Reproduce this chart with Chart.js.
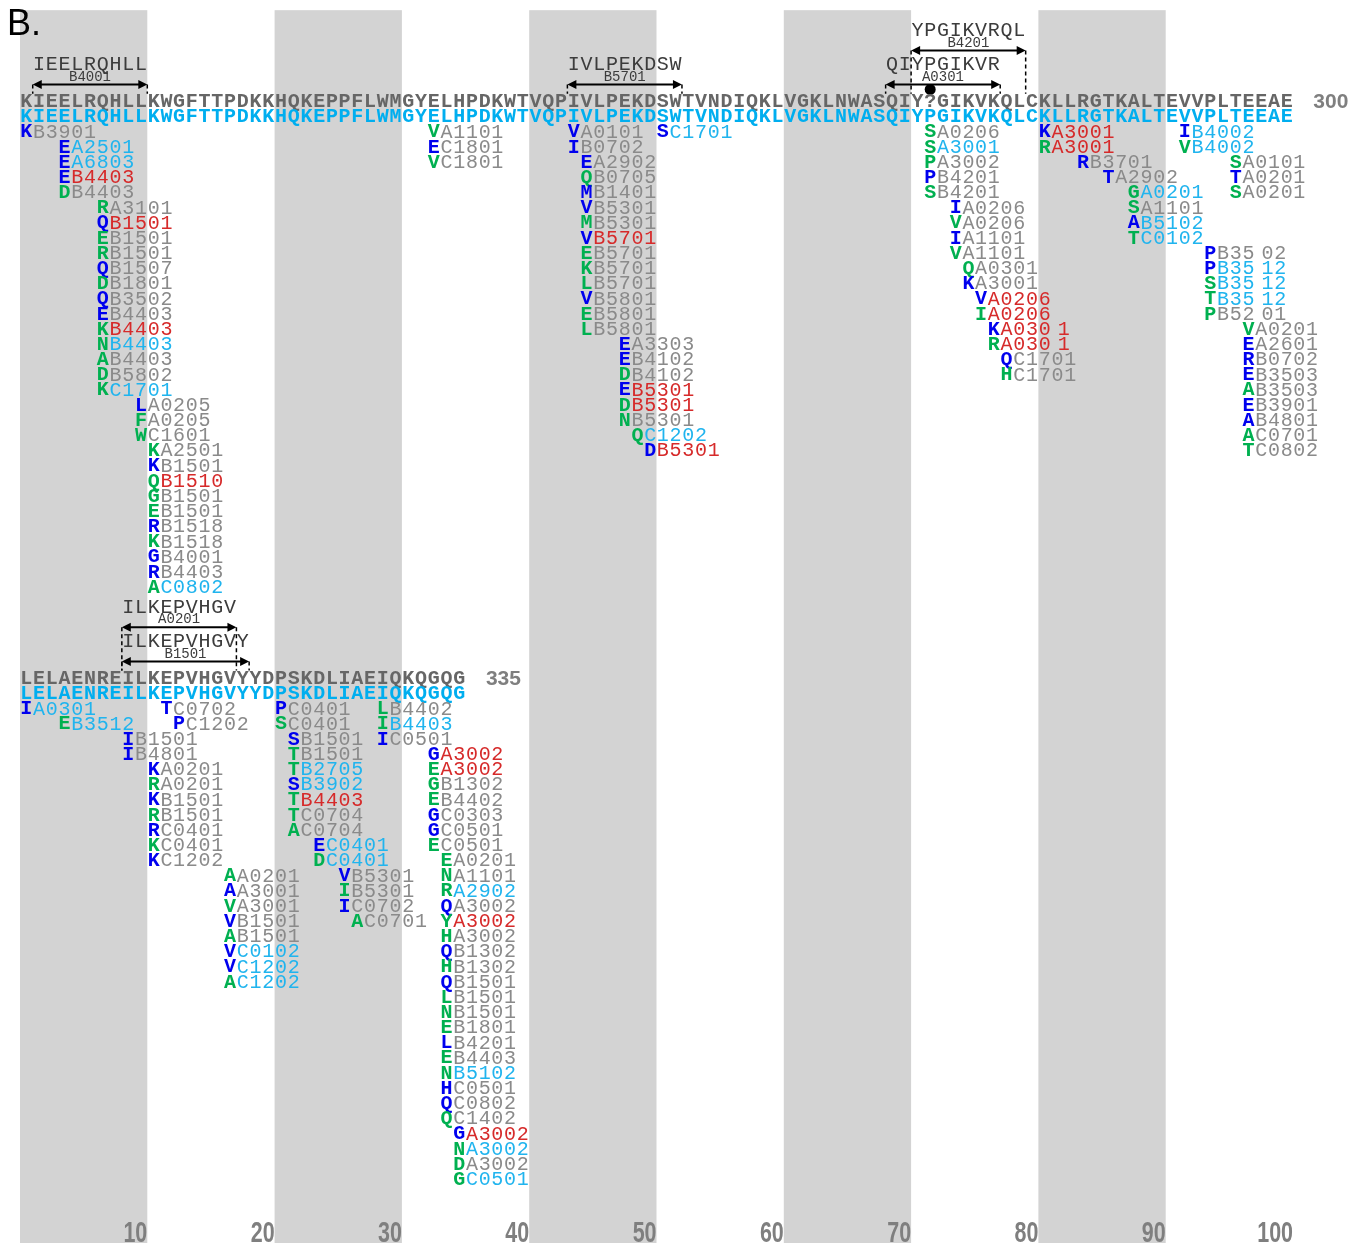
<!DOCTYPE html>
<html>
<head>
<meta charset="utf-8">
<script src="https://cdn.jsdelivr.net/npm/chart.js@4.4.1/dist/chart.umd.min.js"></script>
<style>
  html, body { margin: 0; padding: 0; background: #fff; }
</style>
</head>
<body>
<canvas id="chart" width="1351" height="1243"></canvas>
<script>
// Alignment blocks: reference row (grey) and consensus row (cyan)
const block1Ref  = 'KIEELRQHLLKWGFTTPDKKHQKEPPFLWMGYELHPDKWTVQPIVLPEKDSWTVNDIQKLVGKLNWASQIY?GIKVKQLCKLLRGTKALTEVVPLTEEAE';
const block1Cons = 'KIEELRQHLLKWGFTTPDKKHQKEPPFLWMGYELHPDKWTVQPIVLPEKDSWTVNDIQKLVGKLNWASQIYPGIKVKQLCKLLRGTKALTEVVPLTEEAE';
const block2Ref  = 'LELAENREILKEPVHGVYYDPSKDLIAEIQKQGQG';
const block2Cons = 'LELAENREILKEPVHGVYYDPSKDLIAEIQKQGQG';
const blockEndLabels = ['300', '335'];
const blockFirstRow = [0, 38];

// column numbering along the bottom
const tickValues = [10, 20, 30, 40, 50, 60, 70, 80, 90, 100];
const shadedStart = [1, 21, 41, 61, 81];
const shadedWidth = 10;

// known epitopes (block, first residue, last residue, peptide, restricting allele, bracket level)
const epiBlock   = [0, 0, 0, 0, 1, 1];
const epiStart   = [2, 44, 71, 69, 9, 9];
const epiEnd     = [10, 52, 79, 77, 17, 18];
const epiPeptide = ['IEELRQHLL', 'IVLPEKDSW', 'YPGIKVRQL', 'QIYPGIKVR', 'ILKEPVHGV', 'ILKEPVHGVY'];
const epiAllele  = ['B4001', 'B5701', 'B4201', 'A0301', 'A0201', 'B1501'];
const epiLevel   = [1, 1, 2, 1, 2, 1];
// residue flagged with a dot under the A0301 bracket
const dotEpitope = [3];
const dotResidue = [72];

// variants: [position, stack row, residue, residue class, allele, allele class]
// residue class: b / g ; allele class: n (plain), r, c
const variants1 = [
  [1, 0, 'K', 'b', 'B3901', 'n'],
  [4, 1, 'E', 'b', 'A2501', 'c'],
  [4, 2, 'E', 'b', 'A6803', 'c'],
  [4, 3, 'E', 'b', 'B4403', 'r'],
  [4, 4, 'D', 'g', 'B4403', 'n'],
  [7, 5, 'R', 'g', 'A3101', 'n'],
  [7, 6, 'Q', 'b', 'B1501', 'r'],
  [7, 7, 'E', 'g', 'B1501', 'n'],
  [7, 8, 'R', 'g', 'B1501', 'n'],
  [7, 9, 'Q', 'b', 'B1507', 'n'],
  [7, 10, 'D', 'g', 'B1801', 'n'],
  [7, 11, 'Q', 'b', 'B3502', 'n'],
  [7, 12, 'E', 'b', 'B4403', 'n'],
  [7, 13, 'K', 'g', 'B4403', 'r'],
  [7, 14, 'N', 'g', 'B4403', 'c'],
  [7, 15, 'A', 'g', 'B4403', 'n'],
  [7, 16, 'D', 'g', 'B5802', 'n'],
  [7, 17, 'K', 'g', 'C1701', 'c'],
  [10, 18, 'L', 'b', 'A0205', 'n'],
  [10, 19, 'F', 'g', 'A0205', 'n'],
  [10, 20, 'W', 'g', 'C1601', 'n'],
  [11, 21, 'K', 'g', 'A2501', 'n'],
  [11, 22, 'K', 'b', 'B1501', 'n'],
  [11, 23, 'Q', 'g', 'B1510', 'r'],
  [11, 24, 'G', 'g', 'B1501', 'n'],
  [11, 25, 'E', 'g', 'B1501', 'n'],
  [11, 26, 'R', 'b', 'B1518', 'n'],
  [11, 27, 'K', 'g', 'B1518', 'n'],
  [11, 28, 'G', 'b', 'B4001', 'n'],
  [11, 29, 'R', 'b', 'B4403', 'n'],
  [11, 30, 'A', 'g', 'C0802', 'c'],
  [33, 0, 'V', 'g', 'A1101', 'n'],
  [33, 1, 'E', 'b', 'C1801', 'n'],
  [33, 2, 'V', 'g', 'C1801', 'n'],
  [44, 0, 'V', 'b', 'A0101', 'n'],
  [44, 1, 'I', 'b', 'B0702', 'n'],
  [45, 2, 'E', 'b', 'A2902', 'n'],
  [45, 3, 'Q', 'g', 'B0705', 'n'],
  [45, 4, 'M', 'b', 'B1401', 'n'],
  [45, 5, 'V', 'b', 'B5301', 'n'],
  [45, 6, 'M', 'g', 'B5301', 'n'],
  [45, 7, 'V', 'b', 'B5701', 'r'],
  [45, 8, 'E', 'g', 'B5701', 'n'],
  [45, 9, 'K', 'g', 'B5701', 'n'],
  [45, 10, 'L', 'g', 'B5701', 'n'],
  [45, 11, 'V', 'b', 'B5801', 'n'],
  [45, 12, 'E', 'g', 'B5801', 'n'],
  [45, 13, 'L', 'g', 'B5801', 'n'],
  [48, 14, 'E', 'b', 'A3303', 'n'],
  [48, 15, 'E', 'b', 'B4102', 'n'],
  [48, 16, 'D', 'g', 'B4102', 'n'],
  [48, 17, 'E', 'b', 'B5301', 'r'],
  [48, 18, 'D', 'g', 'B5301', 'r'],
  [48, 19, 'N', 'g', 'B5301', 'n'],
  [49, 20, 'Q', 'g', 'C1202', 'c'],
  [50, 21, 'D', 'b', 'B5301', 'r'],
  [51, 0, 'S', 'b', 'C1701', 'c'],
  [72, 0, 'S', 'g', 'A0206', 'n'],
  [72, 1, 'S', 'g', 'A3001', 'c'],
  [72, 2, 'P', 'g', 'A3002', 'n'],
  [72, 3, 'P', 'b', 'B4201', 'n'],
  [72, 4, 'S', 'g', 'B4201', 'n'],
  [74, 5, 'I', 'b', 'A0206', 'n'],
  [74, 6, 'V', 'g', 'A0206', 'n'],
  [74, 7, 'I', 'b', 'A1101', 'n'],
  [74, 8, 'V', 'g', 'A1101', 'n'],
  [75, 9, 'Q', 'g', 'A0301', 'n'],
  [75, 10, 'K', 'b', 'A3001', 'n'],
  [76, 11, 'V', 'b', 'A0206', 'r'],
  [76, 12, 'I', 'g', 'A0206', 'r'],
  [77, 13, 'K', 'b', 'A030 1', 'r'],
  [77, 14, 'R', 'g', 'A030 1', 'r'],
  [78, 15, 'Q', 'b', 'C1701', 'n'],
  [78, 16, 'H', 'g', 'C1701', 'n'],
  [81, 0, 'K', 'b', 'A3001', 'r'],
  [81, 1, 'R', 'g', 'A3001', 'r'],
  [84, 2, 'R', 'b', 'B3701', 'n'],
  [86, 3, 'T', 'b', 'A2902', 'n'],
  [88, 4, 'G', 'g', 'A0201', 'c'],
  [88, 5, 'S', 'g', 'A1101', 'n'],
  [88, 6, 'A', 'b', 'B5102', 'c'],
  [88, 7, 'T', 'g', 'C0102', 'c'],
  [92, 0, 'I', 'b', 'B4002', 'c'],
  [92, 1, 'V', 'g', 'B4002', 'c'],
  [96, 2, 'S', 'g', 'A0101', 'n'],
  [96, 3, 'T', 'b', 'A0201', 'n'],
  [96, 4, 'S', 'g', 'A0201', 'n'],
  [94, 8, 'P', 'b', 'B35 02', 'n'],
  [94, 9, 'P', 'b', 'B35 12', 'c'],
  [94, 10, 'S', 'g', 'B35 12', 'c'],
  [94, 11, 'T', 'g', 'B35 12', 'c'],
  [94, 12, 'P', 'g', 'B52 01', 'n'],
  [97, 13, 'V', 'g', 'A0201', 'n'],
  [97, 14, 'E', 'b', 'A2601', 'n'],
  [97, 15, 'R', 'b', 'B0702', 'n'],
  [97, 16, 'E', 'b', 'B3503', 'n'],
  [97, 17, 'A', 'g', 'B3503', 'n'],
  [97, 18, 'E', 'b', 'B3901', 'n'],
  [97, 19, 'A', 'b', 'B4801', 'n'],
  [97, 20, 'A', 'g', 'C0701', 'n'],
  [97, 21, 'T', 'g', 'C0802', 'n']
];

const variants2 = [
  [1, 0, 'I', 'b', 'A0301', 'c'],
  [4, 1, 'E', 'g', 'B3512', 'c'],
  [9, 2, 'I', 'b', 'B1501', 'n'],
  [9, 3, 'I', 'b', 'B4801', 'n'],
  [11, 4, 'K', 'b', 'A0201', 'n'],
  [11, 5, 'R', 'g', 'A0201', 'n'],
  [11, 6, 'K', 'b', 'B1501', 'n'],
  [11, 7, 'R', 'g', 'B1501', 'n'],
  [11, 8, 'R', 'b', 'C0401', 'n'],
  [11, 9, 'K', 'g', 'C0401', 'n'],
  [11, 10, 'K', 'b', 'C1202', 'n'],
  [12, 0, 'T', 'b', 'C0702', 'n'],
  [13, 1, 'P', 'b', 'C1202', 'n'],
  [17, 11, 'A', 'g', 'A0201', 'n'],
  [17, 12, 'A', 'b', 'A3001', 'n'],
  [17, 13, 'V', 'g', 'A3001', 'n'],
  [17, 14, 'V', 'b', 'B1501', 'n'],
  [17, 15, 'A', 'g', 'B1501', 'n'],
  [17, 16, 'V', 'b', 'C0102', 'c'],
  [17, 17, 'V', 'b', 'C1202', 'c'],
  [17, 18, 'A', 'g', 'C1202', 'c'],
  [21, 0, 'P', 'b', 'C0401', 'n'],
  [21, 1, 'S', 'g', 'C0401', 'n'],
  [22, 2, 'S', 'b', 'B1501', 'n'],
  [22, 3, 'T', 'g', 'B1501', 'n'],
  [22, 4, 'T', 'g', 'B2705', 'c'],
  [22, 5, 'S', 'b', 'B3902', 'c'],
  [22, 6, 'T', 'g', 'B4403', 'r'],
  [22, 7, 'T', 'g', 'C0704', 'n'],
  [22, 8, 'A', 'g', 'C0704', 'n'],
  [24, 9, 'E', 'b', 'C0401', 'c'],
  [24, 10, 'D', 'g', 'C0401', 'c'],
  [26, 11, 'V', 'b', 'B5301', 'n'],
  [26, 12, 'I', 'g', 'B5301', 'n'],
  [26, 13, 'I', 'b', 'C0702', 'n'],
  [27, 14, 'A', 'g', 'C0701', 'n'],
  [29, 0, 'L', 'g', 'B4402', 'n'],
  [29, 1, 'I', 'g', 'B4403', 'c'],
  [29, 2, 'I', 'b', 'C0501', 'n'],
  [33, 3, 'G', 'b', 'A3002', 'r'],
  [33, 4, 'E', 'g', 'A3002', 'r'],
  [33, 5, 'G', 'g', 'B1302', 'n'],
  [33, 6, 'E', 'g', 'B4402', 'n'],
  [33, 7, 'G', 'b', 'C0303', 'n'],
  [33, 8, 'G', 'b', 'C0501', 'n'],
  [33, 9, 'E', 'g', 'C0501', 'n'],
  [34, 10, 'E', 'g', 'A0201', 'n'],
  [34, 11, 'N', 'g', 'A1101', 'n'],
  [34, 12, 'R', 'g', 'A2902', 'c'],
  [34, 13, 'Q', 'b', 'A3002', 'n'],
  [34, 14, 'Y', 'g', 'A3002', 'r'],
  [34, 15, 'H', 'g', 'A3002', 'n'],
  [34, 16, 'Q', 'b', 'B1302', 'n'],
  [34, 17, 'H', 'g', 'B1302', 'n'],
  [34, 18, 'Q', 'b', 'B1501', 'n'],
  [34, 19, 'L', 'g', 'B1501', 'n'],
  [34, 20, 'N', 'g', 'B1501', 'n'],
  [34, 21, 'E', 'g', 'B1801', 'n'],
  [34, 22, 'L', 'b', 'B4201', 'n'],
  [34, 23, 'E', 'g', 'B4403', 'n'],
  [34, 24, 'N', 'g', 'B5102', 'c'],
  [34, 25, 'H', 'b', 'C0501', 'n'],
  [34, 26, 'Q', 'b', 'C0802', 'n'],
  [34, 27, 'Q', 'g', 'C1402', 'n'],
  [35, 28, 'G', 'b', 'A3002', 'r'],
  [35, 29, 'N', 'g', 'A3002', 'c'],
  [35, 30, 'D', 'g', 'A3002', 'n'],
  [35, 31, 'G', 'g', 'C0501', 'c']
];

// ---- styling ----
const MONO = '"Liberation Mono", "Courier New", monospace';
const residueColors = { b: '#0000EE', g: '#00B050' };
const alleleColors = { n: '#8A8A8A', r: '#D62A2A', c: '#20B4EE' };
const refColor = '#666666';
const consColor = '#00AEEF';
const labelColor = '#3C3C3C';
const levelArrowRow = { 1: -1.15, 2: -3.4 };

// draws a string one character per alignment column, starting at column `col` (1-based)
function drawRun(ctx, x, text, col, py, color, font) {
  ctx.font = font;
  ctx.fillStyle = color;
  let c = col;
  for (const ch of text) {
    if (ch === ' ') { c += 0.5; continue; }
    ctx.fillText(ch, x.getPixelForValue(c - 0.5), py);
    c += 1;
  }
}

function arrowHead(ctx, px, py, dir) {
  ctx.beginPath();
  ctx.moveTo(px, py);
  ctx.lineTo(px - dir * 9, py - 4.5);
  ctx.lineTo(px - dir * 9, py + 4.5);
  ctx.closePath();
  ctx.fill();
}

const alignmentPlugin = {
  id: 'alignment',
  beforeDraw(chart) {
    const { ctx, scales: { x, y } } = chart;
    ctx.save();
    ctx.fillStyle = '#D3D3D3';
    const top = y.getPixelForValue(-6.05);
    shadedStart.forEach(s => {
      const l = x.getPixelForValue(s - 1);
      const r = x.getPixelForValue(s - 1 + shadedWidth);
      ctx.fillRect(l, top, r - l, chart.height - top);
    });
    ctx.restore();
  },
  afterDatasetsDraw(chart) {
    const { ctx, scales: { x, y } } = chart;
    ctx.save();
    ctx.textAlign = 'center';
    ctx.textBaseline = 'middle';

    const refs = [block1Ref, block2Ref];
    const cons = [block1Cons, block2Cons];
    const vars = [variants1, variants2];
    refs.forEach((seq, b) => {
      const r0 = blockFirstRow[b];
      drawRun(ctx, x, seq, 1, y.getPixelForValue(r0), refColor, 'bold 20px ' + MONO);
      drawRun(ctx, x, cons[b], 1, y.getPixelForValue(r0 + 1), consColor, 'bold 20px ' + MONO);
      // sequence end number
      ctx.font = 'bold 21px "Liberation Sans", Arial, sans-serif';
      ctx.fillStyle = '#7F7F7F';
      ctx.textAlign = 'left';
      ctx.fillText(blockEndLabels[b], x.getPixelForValue(seq.length + 1.6), y.getPixelForValue(r0));
      ctx.textAlign = 'center';

      vars[b].forEach(([pos, row, aa, aaCls, allele, alCls]) => {
        const py = y.getPixelForValue(r0 + 2 + row);
        drawRun(ctx, x, aa, pos, py, residueColors[aaCls], 'bold 20px ' + MONO);
        drawRun(ctx, x, allele, pos + 1, py, alleleColors[alCls], '20px ' + MONO);
      });
    });

    // epitope brackets
    epiPeptide.forEach((pep, i) => {
      const r0 = blockFirstRow[epiBlock[i]];
      const arrowRow = r0 + levelArrowRow[epiLevel[i]];
      const ay = y.getPixelForValue(arrowRow);
      const xl = x.getPixelForValue(epiStart[i] - 1);
      const xr = x.getPixelForValue(epiEnd[i]);
      drawRun(ctx, x, pep, epiStart[i], y.getPixelForValue(arrowRow - 1.3), labelColor, '20px ' + MONO);
      ctx.font = '14px ' + MONO;
      ctx.fillStyle = labelColor;
      ctx.fillText(epiAllele[i], (xl + xr) / 2, y.getPixelForValue(arrowRow - 0.5));

      ctx.strokeStyle = '#000';
      ctx.fillStyle = '#000';
      ctx.lineWidth = 2;
      ctx.setLineDash([]);
      ctx.beginPath();
      ctx.moveTo(xl + 4, ay);
      ctx.lineTo(xr - 4, ay);
      ctx.stroke();
      arrowHead(ctx, xl, ay, -1);
      arrowHead(ctx, xr, ay, 1);

      ctx.lineWidth = 1.5;
      ctx.setLineDash([4, 3]);
      const yb = y.getPixelForValue(r0 - 0.55);
      [xl, xr].forEach(px => {
        ctx.beginPath();
        ctx.moveTo(px, ay);
        ctx.lineTo(px, yb);
        ctx.stroke();
      });
    });
    ctx.setLineDash([]);

    // column numbers, condensed bold, right-aligned at the end of each tenth residue
    ctx.font = 'bold 29px "Liberation Sans", Arial, sans-serif';
    ctx.fillStyle = '#7F7F7F';
    ctx.textAlign = 'right';
    ctx.textBaseline = 'alphabetic';
    x.ticks.forEach(t => {
      ctx.save();
      ctx.translate(x.getPixelForValue(t.value), chart.height - 1.5);
      ctx.scale(0.74, 1);
      ctx.fillText(String(t.value), 0, 0);
      ctx.restore();
    });

    // panel letter
    ctx.textAlign = 'left';
    ctx.textBaseline = 'middle';
    ctx.font = '36px "Liberation Sans", Arial, sans-serif';
    ctx.fillStyle = '#000';
    ctx.fillText('B.', 7, y.getPixelForValue(-5.1));
    ctx.restore();
  }
};

const dotPoints = dotResidue.map((res, i) => {
  const e = dotEpitope[i];
  return { x: res - 0.5, y: blockFirstRow[epiBlock[e]] + levelArrowRow[epiLevel[e]] + 0.32 };
});

new Chart(document.getElementById('chart'), {
  type: 'scatter',
  data: {
    datasets: [{
      data: dotPoints,
      pointRadius: 5.5,
      pointBackgroundColor: '#000',
      pointBorderWidth: 0
    }]
  },
  options: {
    responsive: false,
    animation: false,
    devicePixelRatio: 1,
    layout: { autoPadding: false, padding: { left: 20, right: 58, top: 0, bottom: 0 } },
    plugins: { legend: { display: false }, tooltip: { enabled: false } },
    scales: {
      x: {
        type: 'linear',
        position: 'bottom',
        min: 0,
        max: 100,
        afterBuildTicks: axis => { axis.ticks = tickValues.map(v => ({ value: v })); },
        ticks: { display: false },
        grid: { display: false, drawTicks: false },
        border: { display: false }
      },
      y: {
        type: 'linear',
        display: false,
        reverse: true,
        min: -6.72,
        max: 75.16
      }
    }
  },
  plugins: [alignmentPlugin]
});
</script>
</body>
</html>
